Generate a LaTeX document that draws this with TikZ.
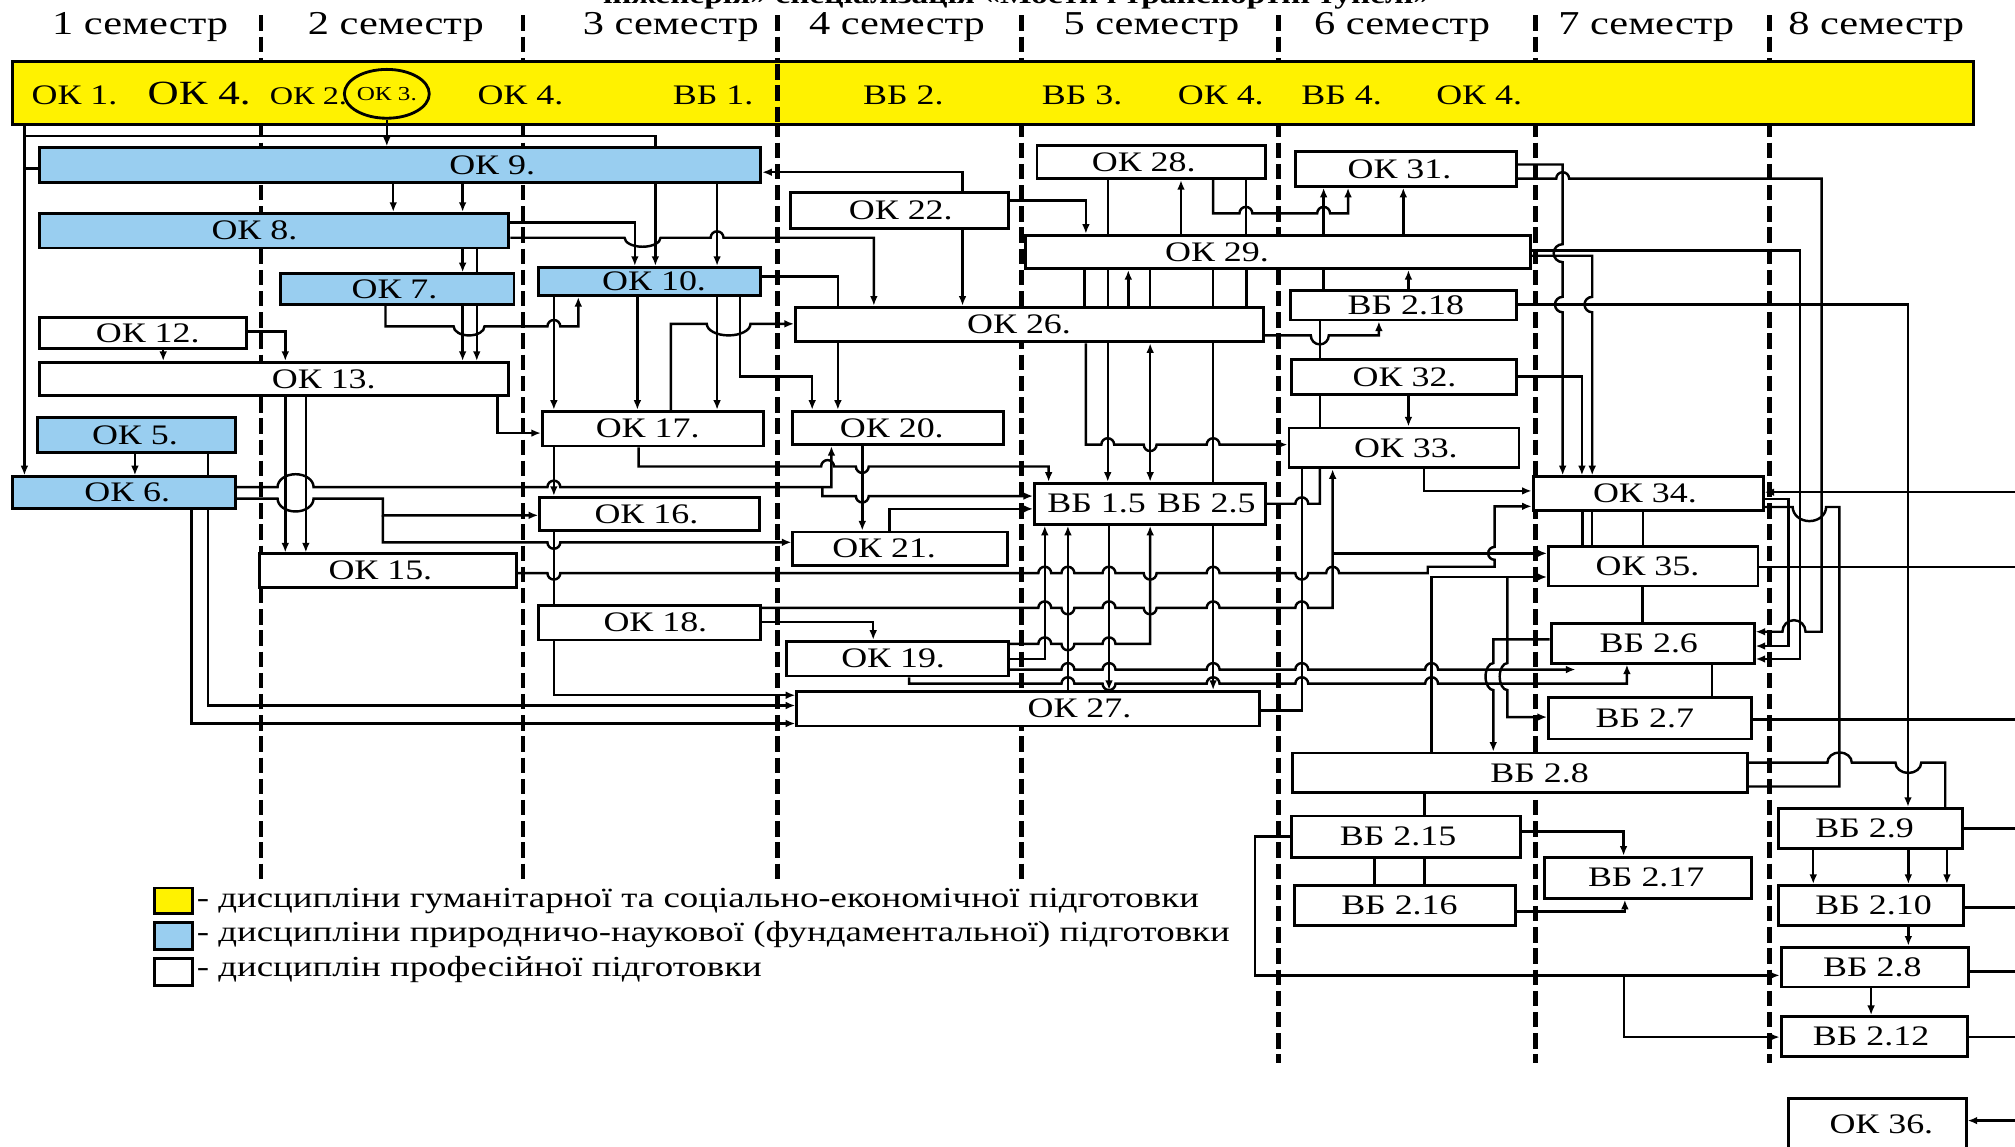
\documentclass[tikz,border=0pt]{standalone}
\usepackage{fontspec}
\setmainfont{Liberation Serif}[FakeStretch=1.27]
\usetikzlibrary{arrows.meta,shapes.geometric}
\definecolor{yel}{RGB}{255,242,0}
\definecolor{skyb}{RGB}{153,206,240}
\newcommand{\bxfont}{\fontsize{22}{24}\selectfont}
\newcommand{\mkbox}[8]{%
  \node[#7, minimum width={((#4)-(#2))*1pt}, minimum height={((#5)-(#3))*1pt}] (#1) at ({((#2)+(#4))/2},{((#3)+(#5))/2}) {};%
  \node[font=\bxfont, inner sep=0pt] (#1t) at (#8,{((#3)+(#5))/2}) {#6};}
\tikzset{
 bx/.style={draw, line width=2.2pt, inner sep=0pt, rectangle},
 blu/.style={bx, fill=skyb},
 wht/.style={bx, fill=white},
 ln/.style={line width=1.9pt, line join=miter},
 ar/.style={ln, -{Latex[length=7.5pt,width=6pt]}},
 ar2/.style={ln, {Latex[length=7.5pt,width=6pt]}-{Latex[length=7.5pt,width=6pt]}},
 semline/.style={line width=3.6pt, dash pattern=on 12pt off 4.5pt},
 hu/.style 2 args={insert path={-- ({#1-5},#2) arc[start angle=180,end angle=360,radius=5]}},
 hd/.style 2 args={insert path={-- ({#1-5},#2) arc[start angle=180,end angle=0,radius=5]}},
 sem/.style={font=\fontsize{26}{28}\selectfont, anchor=base, inner sep=0pt},
 bt/.style={font=\fontsize{22}{24}\selectfont, anchor=base, inner sep=0pt},
 lg/.style={font=\fontsize{22.6}{24}\selectfont, anchor=base west, inner sep=0pt},
}
\begin{document}
\begin{tikzpicture}[x=1pt,y=-1pt]
\useasboundingbox (0,0) rectangle (1568,892);
\fill[white] (0,0) rectangle (1568,892);
\coordinate (E) at (1568,0);
% title (cut off at the top edge, as in the reference)
\node[anchor=base, font=\bfseries\fontsize{20.5}{22}\selectfont, inner sep=0pt] (title) at (791,3) {інженерія» спеціалізація «Мости і транспортні тунелі»};
% semester headers
\foreach \x/\n [count=\i] in {109/1, 308/2, 522/3, 698/4, 896/5, 1091/6, 1281/7, 1460/8}
  \node[sem] (s\i) at (\x,27) {\n\ семестр};
% semester lines
\foreach \x/\yb in {203/686,407/686,605/686,795/686,995/827,1195/827,1377/827}
  \draw[semline] (\x,12) -- (\x,\yb);
% band
\node[bx, fill=yel, minimum width=1526pt, minimum height=49pt] (band) at (773,72.5) {};
\draw[semline] (605,50) -- (605,96);
\node[bt] (b1) at (58,81) {ОК 1.};
\node[bt, font=\fontsize{26.4}{28}\selectfont] (b2) at (155,81.5) {ОК 4.};
\node[bt, font=\fontsize{19.8}{21}\selectfont] (b3) at (240,81) {ОК 2.};
\node[draw, ellipse, line width=2.2pt, minimum width=55pt, minimum height=38pt, inner sep=0pt, font=\fontsize{15.4}{16}\selectfont] (ok3) at (301,73) {ОК 3.};
\node[bt] (b4) at (405,81) {ОК 4.};
\node[bt] (b5) at (555,81) {ВБ 1.};
\node[bt] (b6) at (703,81) {ВБ 2.};
\node[bt] (b7) at (842,81) {ВБ 3.};
\node[bt] (b8) at (950,81) {ОК 4.};
\node[bt] (b9) at (1044,81) {ВБ 4.};
\node[bt] (b10) at (1151,81) {ОК 4.};
% boxes
\mkbox{ok9}{31}{115}{592}{142}{ОК 9.}{blu}{383}
\mkbox{ok8}{31}{166}{396}{193}{ОК 8.}{blu}{198}
\mkbox{ok7}{218}{213}{400}{237}{ОК 7.}{blu}{307}
\mkbox{ok10}{419}{208}{592}{230}{ОК 10.}{blu}{509}
\mkbox{ok12}{31}{247}{192}{271}{ОК 12.}{wht}{115}
\mkbox{ok13}{31}{282}{396}{308}{ОК 13.}{wht}{252}
\mkbox{ok5}{29}{325}{183}{352}{ОК 5.}{blu}{105}
\mkbox{ok6}{10}{371}{183}{396}{ОК 6.}{blu}{99}
\mkbox{ok17}{422}{320}{594}{347}{ОК 17.}{wht}{504}
\mkbox{ok16}{420}{387}{591}{413}{ОК 16.}{wht}{503}
\mkbox{ok15}{202}{431}{402}{457}{ОК 15.}{wht}{296}
\mkbox{ok18}{419}{471}{592}{498}{ОК 18.}{wht}{510}
\mkbox{ok22}{615}{150}{785}{178}{ОК 22.}{wht}{701}
\mkbox{ok26}{619}{239}{983}{266}{ОК 26.}{wht}{793}
\mkbox{ok20}{617}{320}{781}{346}{ОК 20.}{wht}{694}
\mkbox{ok21}{617}{414}{784}{440}{ОК 21.}{wht}{688}
\mkbox{ok19}{612}{499}{785}{526}{ОК 19.}{wht}{695}
\mkbox{ok27}{620}{538}{980}{565}{ОК 27.}{wht}{840}
\mkbox{ok28}{807}{113}{985}{139}{ОК 28.}{wht}{890}
\mkbox{ok31}{1008}{118}{1180}{145}{ОК 31.}{wht}{1089}
\mkbox{ok29}{798}{183}{1191}{209}{ОК 29.}{wht}{947}
\mkbox{vb218}{1004}{226}{1180}{249}{ВБ 2.18}{wht}{1094}
\mkbox{ok32}{1005}{280}{1180}{307}{ОК 32.}{wht}{1093}
\mkbox{ok33}{1003}{333}{1182}{364}{ОК 33.}{wht}{1094}
\mkbox{vb15}{805}{376}{985}{408}{ВБ 1.5\hspace{0.4em}ВБ 2.5}{wht}{896}
\mkbox{ok34}{1193}{371}{1372}{397}{ОК 34.}{wht}{1280}
\mkbox{ok35}{1205}{425}{1368}{456}{ОК 35.}{wht}{1282}
\mkbox{vb26}{1207}{485}{1365}{516}{ВБ 2.6}{wht}{1283}
\mkbox{vb27}{1205}{543}{1363}{575}{ВБ 2.7}{wht}{1280}
\mkbox{vb28}{1006}{586}{1360}{617}{ВБ 2.8}{wht}{1198}
\mkbox{vb215}{1005}{635}{1183}{667}{ВБ 2.15}{wht}{1088}
\mkbox{vb216}{1007}{689}{1179}{720}{ВБ 2.16}{wht}{1089}
\mkbox{vb217}{1202}{667}{1363}{699}{ВБ 2.17}{wht}{1281}
\mkbox{vb29}{1384}{629}{1527}{660}{ВБ 2.9}{wht}{1451}
\mkbox{vb210}{1384}{689}{1528}{720}{ВБ 2.10}{wht}{1458}
\mkbox{vb28r}{1386}{737}{1532}{768}{ВБ 2.8}{wht}{1457}
\mkbox{vb212}{1386}{791}{1531}{822}{ВБ 2.12}{wht}{1456}
\mkbox{ok36}{1392}{855}{1530}{895}{ОК 36.}{wht}{1464}
% legend
\mkbox{lgy}{120}{691}{150}{711}{}{bx, fill=yel}{135}
\mkbox{lgb}{120}{718}{150}{739}{}{blu}{135}
\mkbox{lgw}{120}{746}{150}{767}{}{wht}{135}
\node[lg] (lt1) at (153,706) {- дисципліни гуманітарної та соціально-економічної підготовки};
\node[lg] (lt2) at (153,733) {- дисципліни природничо-наукової (фундаментальної) підготовки};
\node[lg] (lt3) at (153,760) {- дисциплін професійної підготовки};
% ---------- connectors: left part ----------
\draw[ar] (ok3.south) -- (ok9.north -| ok3.south);
\draw[ar] (band.south -| 19,0) -- (ok6.north -| 19,0);
\draw[ln] (19,106) -- (510,106) -- (ok9.north -| 510,0);
\draw[ln] (19,131) -- (ok9.west |- 0,131);
\draw[ar] (ok9.south -| 510,0) -- (ok10.north -| 510,0);
\draw[ar] (ok9.south -| 306,0) -- (ok8.north -| 306,0);
\draw[ar] (ok9.south -| 360,0) -- (ok8.north -| 360,0);
\draw[ar] (ok9.south -| 558,0) -- (ok10.north -| 558,0);
\draw[ar] (ok8.east |- 0,173) -- (494,173) -- (ok10.north -| 494,0);
\draw[ar] (ok8.east |- 0,185) -- (486,185) arc[start angle=180,end angle=0,x radius=14,y radius=7] [hu={558}{185}] -- (680,185) -- (ok26.north -| 680,0);
\draw[ar] (ok8.south -| 360,0) -- (ok7.north -| 360,0);
\draw[ln] (ok8.south -| 371,0) -- (ok7.north -| 371,0);
\draw[ar] (ok7.south -| 360,0) -- (ok13.north -| 360,0);
\draw[ar] (ok7.south -| 371,0) -- (ok13.north -| 371,0);
\draw[ar] (ok7.south -| 300,0) -- (300,254) -- (353,254) arc[start angle=180,end angle=0,x radius=12,y radius=7] [hu={431}{254}] -- (450,254) -- (ok10.south -| 450,0);
\draw[ar] (ok10.south -| 431,0) -- (ok17.north -| 431,0);
\draw[ar] (ok10.south -| 496,0) -- (ok17.north -| 496,0);
\draw[ar] (ok10.south -| 558,0) -- (ok17.north -| 558,0);
\draw[ar] (ok17.north -| 522,0) -- (522,252) -- (550,252) arc[start angle=180,end angle=0,x radius=17,y radius=9] -- (ok26.west |- 0,252);
\draw[ar] (ok10.south -| 576,0) -- (576,293) -- (632,293) -- (ok20.north -| 632,0);
\draw[ln] (ok10.east |- 0,215) -- (652,215) -- (ok26.north -| 652,0);
\draw[ar] (ok26.south -| 652,0) -- (ok20.north -| 652,0);
\draw[ar] (ok12.south -| 127,0) -- (ok13.north -| 127,0);
\draw[ar] (ok12.east |- 0,258) -- (222,258) -- (ok13.north -| 222,0);
\draw[ar] (ok13.south -| 222,0) -- (ok15.north -| 222,0);
\draw[ar] (ok13.south -| 238,0) -- (ok15.north -| 238,0);
\draw[ar] (ok13.south -| 387,0) -- (387,337) -- (ok17.west |- 0,337);
\draw[ar] (ok5.south -| 105,0) -- (ok6.north -| 105,0);
\draw[ln] (ok5.south -| 162,0) -- (ok6.north -| 162,0);
\draw[ar] (ok6.south -| 162,0) -- (162,549) -- (ok27.west |- 0,549);
\draw[ar] (ok6.south -| 149,0) -- (149,563) -- (ok27.west |- 0,563);
\draw[ar] (ok17.south -| 431,0) -- (ok16.north -| 431,0);
\draw[ln] (ok16.south -| 431,0) -- (ok18.north -| 431,0);
\draw[ar] (ok18.south -| 431,0) -- (431,541) -- (ok27.west |- 0,541);
\draw[ar] (ok6.east |- 0,379) -- (216,379) arc[start angle=180,end angle=360,x radius=14,y radius=10] [hu={431}{379}] -- (647,379) -- (ok20.south -| 647,0);
\draw[ar] (640,379) -- (640,386) [hd={671}{386}] -- (vb15.west |- 0,386);
\draw[ar] (ok6.east |- 0,388) -- (216,388) arc[start angle=180,end angle=0,x radius=14,y radius=10] -- (298,388) -- (298,401) -- (ok16.west |- 0,401);
\draw[ar] (298,401) -- (298,422) [hd={431}{422}] -- (ok21.west |- 0,422);
\draw[ar] (ok17.south -| 497,0) -- (497,363) [hu={644}{363}] [hd={671}{363}] -- (816,363) -- (vb15.north -| 816,0);
\draw[ar] (ok20.south -| 671,0) -- (ok21.north -| 671,0);
\draw[ar] (ok21.north -| 692,0) -- (692,396) -- (vb15.west |- 0,396);
\draw[ar] (ok18.east |- 0,484) -- (679.5,484) -- (ok19.north -| 679.5,0);
% ---------- middle ----------
\draw[ar] (ok22.north -| 749,0) -- (749,134) -- (ok9.east |- 0,134);
\draw[ar] (ok22.south -| 749,0) -- (ok26.north -| 749,0);
\draw[ar] (ok22.east |- 0,156) -- (845,156) -- (ok29.north -| 845,0);
\draw[ln] (ok28.south -| 862,0) -- (ok29.north -| 862,0);
\draw[ar] (ok29.north -| 919,0) -- (ok28.south -| 919,0);
\draw[ln] (ok28.south -| 969.5,0) -- (ok29.north -| 969.5,0);
\draw[ar] (ok28.south -| 944,0) -- (944,166) [hu={969.5}{166}] [hu={1030}{166}] -- (1049,166) -- (ok31.south -| 1049,0);
\draw[ar] (ok29.north -| 1030,0) -- (ok31.south -| 1030,0);
\draw[ar] (ok29.north -| 1092,0) -- (ok31.south -| 1092,0);
\foreach \x in {844,862,895,944,970} \draw[ln] (ok29.south -| \x,0) -- (ok26.north -| \x,0);
\draw[ar] (ok26.north -| 878,0) -- (ok29.south -| 878,0);
\draw[ln] (ok29.south -| 1030,0) -- (vb218.north -| 1030,0);
\draw[ar] (vb218.north -| 1096,0) -- (ok29.south -| 1096,0);
\draw[ar] (ok26.east |- 0,261) -- (1020,261) arc[start angle=180,end angle=0,radius=7] -- (1073,261) -- (vb218.south -| 1073,0);
\draw[ln] (vb218.south -| 1027,0) -- (ok32.north -| 1027,0);
\draw[ln] (ok32.south -| 1027,0) -- (ok33.north -| 1027,0);
\draw[ar] (ok32.south -| 1096,0) -- (ok33.north -| 1096,0);
\draw[ar] (ok26.south -| 862,0) -- (vb15.north -| 862,0);
\draw[ar2] (ok26.south -| 895,0) -- (vb15.north -| 895,0);
\draw[ln] (ok26.south -| 944,0) -- (vb15.north -| 944,0);
\draw[ar] (ok26.south -| 845,0) -- (845,346) [hu={862}{346}] [hd={895}{346}] [hu={944}{346}] -- (ok33.west |- 0,346);
\draw[ar] (ok15.east |- 0,446) [hd={431}{446}] [hu={813}{446}] [hu={831}{446}] [hu={863}{446}] [hd={895}{446}] [hu={944}{446}] [hd={1013}{446}] [hu={1037}{446}] -- (1111,446) -- (1111,441) -- (1163,441) -- (1163,435.6) arc[start angle=90,end angle=270,radius=5] -- (1163,394) -- (ok34.west |- 0,394);
\draw[ar] (ok18.east |- 0,473) [hu={813}{473}] [hd={831}{473}] [hu={863}{473}] [hd={895}{473}] [hu={944}{473}] [hu={1013}{473}] -- (1037,473) -- (ok33.south -| 1037,0);
\draw[ar] (1037,430.6) -- (ok35.west |- 0,430.6);
\draw[ar] (ok19.east |- 0,501) [hu={813}{501}] [hd={831}{501}] [hu={863}{501}] -- (895,501) -- (vb15.south -| 895,0);
\draw[ar] (ok19.east |- 0,513) -- (813,513) -- (vb15.south -| 813,0);
\coordinate (v26in) at (1226,521);
\draw[ar] (ok19.east |- 0,521) [hu={831}{521}] [hu={863}{521}] [hu={944}{521}] [hu={1013}{521}] [hu={1114}{521}] -- (v26in);
\draw[ar] (ok19.south -| 707.5,0) -- (707.5,532) [hu={831}{532}] [hd={863}{532}] [hu={944}{532}] [hu={1013}{532}] [hu={1114}{532}] -- (1266,532) -- (vb26.south -| 1266,0);
\draw[ar] (ok27.north -| 831,0) -- (vb15.south -| 831,0);
\draw[ar] (vb15.south -| 863,0) -- (ok27.north -| 863,0);
\draw[ar] (vb15.south -| 944,0) -- (ok27.north -| 944,0);
\draw[ln] (ok27.east |- 0,553) -- (1013,553) -- (ok33.south -| 1013,0);
\draw[ln] (vb15.east |- 0,392) [hu={1013}{392}] -- (1027,392) -- (ok33.south -| 1027,0);
% ---------- right part ----------
\draw[ar] (ok31.east |- 0,128) -- (1216,128) -- (1216,190) arc[start angle=270,end angle=90,radius=7] -- (1216,231) arc[start angle=270,end angle=90,radius=6] -- (ok34.north -| 1216,0);
\draw[ar] (ok31.east |- 0,139) [hu={1216}{139}] -- (1417.5,139) -- (1417.5,491.6) -- (1405,491.6) arc[start angle=0,end angle=-180,radius=9] -- (vb26.east |- 0,491.6);
\draw[ar] (ok29.east |- 0,195) -- (1400.8,195) -- (1400.8,512.8) -- (vb26.east |- 0,512.8);
\draw[ar] (ok29.east |- 0,199) -- (1239,199) -- (1239,231) arc[start angle=270,end angle=90,radius=6] -- (ok34.north -| 1239,0);
\draw[ar] (vb218.east |- 0,237) -- (1484.7,237) -- (vb29.north -| 1484.7,0);
\draw[ar] (ok32.east |- 0,293) -- (1231,293) -- (ok34.north -| 1231,0);
\draw[ar] (ok33.south -| 1108,0) -- (1108,382) -- (ok34.west |- 0,382);
\draw[ar] (E |- 0,383) -- (ok34.east |- 0,383);
\draw[ar] (ok34.east |- 0,388.5) -- (1391.6,388.5) -- (1391.6,502.7) -- (vb26.east |- 0,502.7);
\draw[ln] (ok34.east |- 0,394.5) -- (1395,394.5) arc[start angle=180,end angle=0,x radius=13,y radius=11] -- (1431.3,394.5) -- (1431.3,612) -- (vb28.east |- 0,612);
\draw[ln] (vb28.east |- 0,593.5) -- (1422,593.5) arc[start angle=180,end angle=360,x radius=9.5,y radius=8] -- (1475,593.5) arc[start angle=180,end angle=0,x radius=10,y radius=8] -- (1513.7,593.5) -- (vb29.north -| 1513.7,0);
\draw[ar] (vb29.south -| 1411,0) -- (vb210.north -| 1411,0);
\draw[ar] (vb29.south -| 1485,0) -- (vb210.north -| 1485,0);
\draw[ar] (vb29.south -| 1515,0) -- (vb210.north -| 1515,0);
\draw[ar] (vb210.south -| 1485,0) -- (vb28r.north -| 1485,0);
\draw[ar] (vb28r.south -| 1456,0) -- (vb212.north -| 1456,0);
\draw[ln] (ok35.east |- 0,441) -- (E |- 0,441);
\draw[ln] (vb27.east |- 0,559.8) -- (E |- 0,559.8);
\draw[ln] (vb29.east |- 0,644.7) -- (E |- 0,644.7);
\draw[ln] (vb210.east |- 0,706) -- (E |- 0,706);
\draw[ln] (vb28r.east |- 0,756) -- (E |- 0,756);
\draw[ln] (vb212.east |- 0,807) -- (E |- 0,807);
\draw[ar] (E |- 0,872) -- (ok36.east |- 0,872);
\draw[ln] (ok34.south -| 1231.4,0) -- (ok35.north -| 1231.4,0);
\draw[ln] (ok34.south -| 1239,0) -- (ok35.north -| 1239,0);
\draw[ln] (ok34.south -| 1278.7,0) -- (ok35.north -| 1278.7,0);
\draw[ln] (ok35.south -| 1278,0) -- (vb26.north -| 1278,0);
\draw[ln] (vb26.south -| 1332,0) -- (vb27.north -| 1332,0);
\draw[ar] (vb28.north -| 1114,0) -- (1114,449) -- (ok35.west |- 0,449);
\draw[ar] (1173,449) -- (1173,516) arc[start angle=270,end angle=90,x radius=6,y radius=10.5] -- (1173,558) -- (vb27.west |- 0,558);
\draw[ar] (vb26.west |- 0,497.5) -- (1162,497.5) -- (1162,516) arc[start angle=270,end angle=90,x radius=6,y radius=10.5] -- (vb28.north -| 1162,0);
\draw[ln] (vb28.south -| 1108.4,0) -- (vb215.north -| 1108.4,0);
\draw[ln] (vb215.south -| 1069.4,0) -- (vb216.north -| 1069.4,0);
\draw[ln] (vb215.south -| 1108.6,0) -- (vb216.north -| 1108.6,0);
\draw[ar] (vb215.east |- 0,647) -- (1263.4,647) -- (vb217.north -| 1263.4,0);
\draw[ar] (vb216.east |- 0,709.4) -- (1264.4,709.4) -- (vb217.south -| 1264.4,0);
\draw[ar] (vb215.west |- 0,651) -- (976.5,651) -- (976.5,759) -- (vb28r.west |- 0,759);
\draw[ar] (1263.6,759) -- (1263.6,807) -- (vb212.west |- 0,807);
\end{tikzpicture}
\end{document}
